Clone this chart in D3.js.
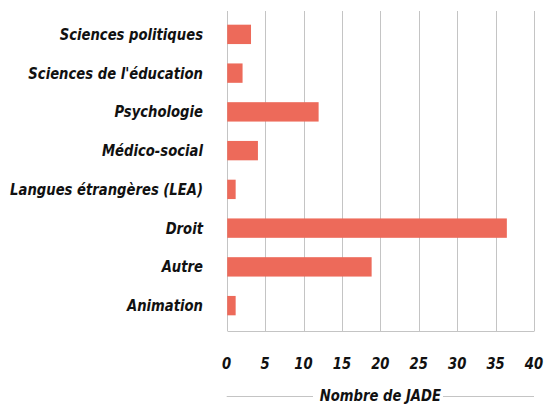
<!DOCTYPE html>
<html lang="fr">
<head>
    <meta charset="UTF-8">
    <title>Nombre de JADE</title>
    <script src="https://d3js.org/d3.v7.min.js"></script>
    <style>
        body { margin: 0; background: #fff; }
        .lbl {
            font-family: "DejaVu Sans", sans-serif;
            font-weight: bold;
            font-style: italic;
            font-size: 16px;
            fill: #111;
        }
    </style>
</head>
<body>
    <div id="chart"></div>
    <script>
        // data
        const categories = ["Sciences politiques", "Sciences de l'éducation", "Psychologie", "Médico-social",
            "Langues étrangères (LEA)", "Droit", "Autre", "Animation"];
        const values = [3.1, 2.0, 11.9, 4.0, 1.1, 36.4, 18.8, 1.1];
        const xTicks = [0, 5, 10, 15, 20, 25, 30, 35, 40];
        const axisTitle = "Nombre de JADE";

        const W = 545, H = 404;
        const x0 = 226.7, x1 = 534;
        const gridTop = 11, gridBottom = 331;

        const svg = d3.select("#chart").append("svg")
            .attr("width", W)
            .attr("height", H);

        const x = d3.scaleLinear().domain([0, 40]).range([x0, x1]);
        const y = d3.scaleBand().domain(categories).range([15, 325]).paddingInner(0.5).paddingOuter(0.25);

        // the original font is a narrow one, so squeeze the text horizontally
        const probe = svg.append("text").attr("class", "lbl").text("Langues étrangères (LEA)");
        const sx = 193 / probe.node().getComputedTextLength();
        probe.remove();

        // gridlines
        svg.append("g").selectAll("line")
            .data(xTicks)
            .enter().append("line")
            .attr("x1", d => Math.round(x(d)) + 0.5)
            .attr("x2", d => Math.round(x(d)) + 0.5)
            .attr("y1", gridTop)
            .attr("y2", gridBottom)
            .attr("stroke", "#c4c4c4")
            .attr("stroke-width", 1);

        svg.append("line")
            .attr("x1", Math.round(x0) + 0.5).attr("x2", Math.round(x1) + 0.5)
            .attr("y1", gridBottom + 0.5).attr("y2", gridBottom + 0.5)
            .attr("stroke", "#c4c4c4");

        // bars
        svg.append("g").selectAll("rect")
            .data(categories)
            .enter().append("rect")
            .attr("x", x(0) + 0.5)
            .attr("y", d => y(d))
            .attr("width", (d, i) => x(values[i]) - x(0))
            .attr("height", y.bandwidth())
            .attr("fill", "#ed6a5a");

        // category labels
        svg.append("g").selectAll("text")
            .data(categories)
            .enter().append("text")
            .attr("class", "lbl")
            .attr("transform", d => `translate(203,${y(d) + y.bandwidth() / 2}) scale(${sx},1)`)
            .attr("dy", "0.35em")
            .attr("text-anchor", "end")
            .text(d => d);

        // x tick labels
        svg.append("g").selectAll("text")
            .data(xTicks)
            .enter().append("text")
            .attr("class", "lbl")
            .attr("transform", d => `translate(${x(d)},369) scale(${sx},1)`)
            .attr("text-anchor", "middle")
            .text(d => d);

        // axis title with side rules
        svg.append("text")
            .attr("class", "lbl")
            .attr("transform", `translate(${(x0 + x1) / 2},401) scale(${sx},1)`)
            .attr("text-anchor", "middle")
            .text(axisTitle);

        svg.append("line")
            .attr("x1", x0).attr("x2", 313)
            .attr("y1", 396.5).attr("y2", 396.5)
            .attr("stroke", "#c4c4c4");
        svg.append("line")
            .attr("x1", 443).attr("x2", x1)
            .attr("y1", 396.5).attr("y2", 396.5)
            .attr("stroke", "#c4c4c4");
    </script>
</body>
</html>
